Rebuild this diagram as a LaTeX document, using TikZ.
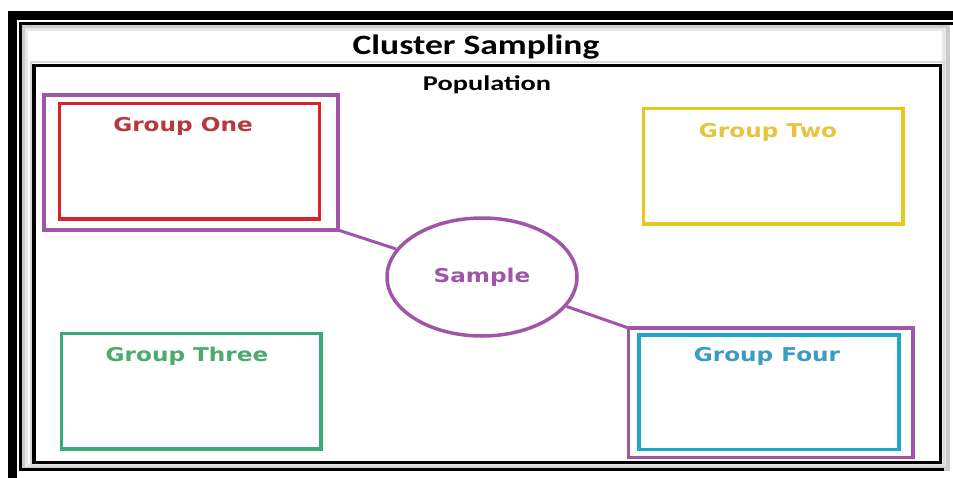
\documentclass[tikz,border=0pt]{standalone}
\usepackage{fontspec}
\usetikzlibrary{shapes.geometric}
\setmainfont{Carlito}
\newfontfamily\grpfont{DejaVu Sans}
\definecolor{selpurple}{HTML}{A056A8}
\definecolor{grpred}{HTML}{D8232B}
\definecolor{grpredtxt}{HTML}{B43A40}
\definecolor{grpyellow}{HTML}{E8C81E}
\definecolor{grpyellowtxt}{HTML}{E6C43C}
\definecolor{grpgreen}{HTML}{3AAA7A}
\definecolor{grpgreentxt}{HTML}{4DAA6C}
\definecolor{grpcyan}{HTML}{1FA6C8}
\definecolor{grpcyantxt}{HTML}{3A9CBE}
\tikzset{
  groupbox/.style={draw=#1, line width=3.5pt},
  grouplabel/.style={text=#1, font=\grpfont\bfseries\fontsize{19}{22}\selectfont, xscale=1.22, inner sep=0pt},
  picklink/.style={draw=selpurple, line width=3pt},
}
\begin{document}
\begin{tikzpicture}[x=1pt, y=-1pt]
  \useasboundingbox (0,0) rectangle (953,477);
  \clip (0,0) rectangle (953,477);
  \fill[white] (0,0) rectangle (953,477);

  % heavy outer border: top and left only, the rest runs off the page
  \draw[black, line width=9pt] (1000,15.5) -- (12.5,15.5) -- (12.5,500);

  % title frame with its soft shadow
  \fill[gray!40] (22,25) rectangle (950,471);
  \fill[gray!18] (25,28) rectangle (946,467);
  \fill[white] (28,31) rectangle (942,464);
  \draw[black, line width=3pt] (944,469) -- (20.5,469) -- (20.5,23.5) -- (953,23.5);

  % population frame
  \draw[gray!30, line width=2pt] (31,62) rectangle (943.5,465.5);
  \draw[black, line width=3.5pt] (34,65.5) rectangle (940.5,462.5);

  \node[font=\bfseries\fontsize{28}{32}\selectfont, xscale=1.27, inner sep=0pt] (title) at (476,47) {Cluster Sampling};
  \node[font=\bfseries\fontsize{21}{25}\selectfont, xscale=1.35, inner sep=0pt] (pop) at (487,85) {Population};

  % clusters
  \coordinate (oneNW) at (44,95);
  \coordinate (oneSE) at (338,230);
  \draw[groupbox=selpurple] (oneNW) rectangle (oneSE);
  \draw[groupbox=grpred] (59.5,103.5) rectangle (319.5,219);
  \node[grouplabel=grpredtxt] (one) at (183,126) {Group One};

  \draw[groupbox=grpyellow] (643.5,108.5) rectangle (903,224);
  \node[grouplabel=grpyellowtxt] (two) at (768,132) {Group Two};

  \draw[groupbox=grpgreen] (61.5,333.5) rectangle (321,449);
  \node[grouplabel=grpgreentxt] (three) at (187,356) {Group Three};

  \coordinate (fourNW) at (628.5,328);
  \coordinate (fourSE) at (913,457.5);
  \draw[groupbox=selpurple] (fourNW) rectangle (fourSE);
  \draw[groupbox=grpcyan] (639,335) rectangle (899,449.5);
  \node[grouplabel=grpcyantxt] (four) at (767,356) {Group Four};

  % chosen sample
  \node[draw=selpurple, line width=3.5pt, ellipse, minimum width=190pt, minimum height=118pt, inner sep=0pt] (sample) at (482,277) {};
  \node[grouplabel=selpurple] (samplelabel) at (482,277) {Sample};

  \draw[picklink] (oneSE) -- (sample);
  \draw[picklink] (sample) -- (fourNW);
\end{tikzpicture}
\end{document}
